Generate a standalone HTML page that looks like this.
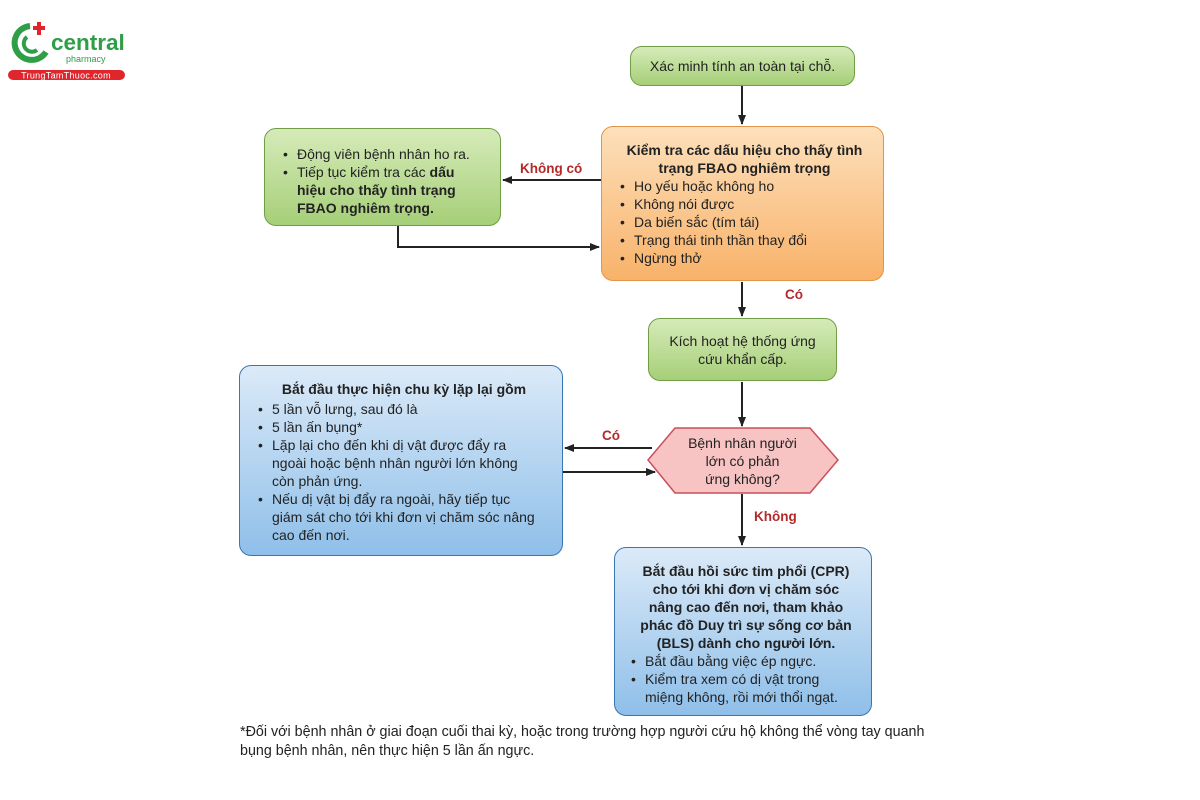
<!DOCTYPE html>
<html><head><meta charset="utf-8"><style>
*{margin:0;padding:0;box-sizing:border-box}
body{width:1200px;height:800px;background:#fff;position:relative;overflow:hidden;font-family:"Liberation Sans",Arial,sans-serif;color:#222;font-size:14px;line-height:18px}
.b{position:absolute;border-radius:12px;white-space:nowrap}
.g{background:linear-gradient(#d6ebb9,#a6cf78);border:1.5px solid #6f9e45}
.o{background:linear-gradient(#fde0bb,#f8b26a);border:1.5px solid #e0954a}
.bl{background:linear-gradient(#dbeaf8,#8fbfe9);border:1.5px solid #3a76b0}
ul{list-style:none}
li{position:relative;padding-left:16px}
li:before{content:"•";position:absolute;left:2px}
.t{font-weight:bold;text-align:center}
.lab{position:absolute;color:#b22a2a;font-weight:bold;font-size:13.5px}
svg{position:absolute;left:0;top:0}
</style></head><body>
<svg width="1200" height="800">
<defs><marker id="a" markerWidth="10" markerHeight="8" refX="9" refY="4" orient="auto" markerUnits="userSpaceOnUse"><path d="M0,0 L10,4 L0,8 z" fill="#222"/></marker></defs>
<g stroke="#222" stroke-width="2" fill="none">
<line x1="742" y1="86" x2="742" y2="124" marker-end="url(#a)"/>
<line x1="601" y1="180" x2="503" y2="180" marker-end="url(#a)"/>
<polyline points="398,226 398,247 599,247" marker-end="url(#a)"/>
<line x1="742" y1="282" x2="742" y2="316" marker-end="url(#a)"/>
<line x1="742" y1="382" x2="742" y2="426" marker-end="url(#a)"/>
<line x1="652" y1="448" x2="565" y2="448" marker-end="url(#a)"/>
<line x1="563" y1="472" x2="655" y2="472" marker-end="url(#a)"/>
<line x1="742" y1="494" x2="742" y2="545" marker-end="url(#a)"/>
</g>
<polygon points="648,460 675,428 810,428 838,460 810,493 675,493" fill="#f7c3c3" stroke="#c9505a" stroke-width="1.5"/>
<path d="M30,26 A17,17 0 1 0 46,52" stroke="#2e9e47" stroke-width="6" fill="none"/>
<path d="M27,37 A8,8 0 1 0 37,50" stroke="#2e9e47" stroke-width="4" fill="none"/>
<rect x="37" y="22" width="4" height="13" fill="#e0262c"/><rect x="33" y="26" width="12" height="4" fill="#e0262c"/>
<rect x="8" y="70" width="117" height="10" rx="5" fill="#e0262c"/>
<text x="66" y="78.5" text-anchor="middle" fill="#fff" font-size="9" font-family="Liberation Sans" letter-spacing="0.3">TrungTamThuoc.com</text>
<text x="51" y="50" fill="#2e9e47" font-size="22.5" font-family="Liberation Sans" font-weight="bold">central</text>
<text x="66" y="62" fill="#2e9e47" font-size="9" font-family="Liberation Sans">pharmacy</text>
</svg>
<div class="b g" style="left:630px;top:46px;width:225px;height:40px;text-align:center;padding-top:10px">Xác minh tính an toàn tại chỗ.</div>
<div class="b g" style="left:264px;top:128px;width:237px;height:98px;padding:16px 0 0 16px"><ul><li>Động viên bệnh nhân ho ra.</li><li>Tiếp tục kiểm tra các <b>dấu<br>hiệu cho thấy tình trạng<br>FBAO nghiêm trọng.</b></li></ul></div>
<div class="lab" style="left:520px;top:160px">Không có</div>
<div class="b o" style="left:601px;top:126px;width:283px;height:155px;padding:14px 12px 0 16px"><div class="t">Kiểm tra các dấu hiệu cho thấy tình<br>trạng FBAO nghiêm trọng</div><ul><li>Ho yếu hoặc không ho</li><li>Không nói được</li><li>Da biến sắc (tím tái)</li><li>Trạng thái tinh thần thay đổi</li><li>Ngừng thở</li></ul></div>
<div class="lab" style="left:785px;top:286px">Có</div>
<div class="b g" style="left:648px;top:318px;width:189px;height:63px;text-align:center;padding-top:13px">Kích hoạt hệ thống ứng<br>cứu khẩn cấp.</div>
<div class="b bl" style="left:239px;top:365px;width:324px;height:191px;padding:14px 10px 0 16px"><div class="t" style="margin-bottom:2px">Bắt đầu thực hiện chu kỳ lặp lại gồm</div><ul><li>5 lần vỗ lưng, sau đó là</li><li>5 lần ấn bụng*</li><li>Lặp lại cho đến khi dị vật được đẩy ra<br>ngoài hoặc bệnh nhân người lớn không<br>còn phản ứng.</li><li>Nếu dị vật bị đẩy ra ngoài, hãy tiếp tục<br>giám sát cho tới khi đơn vị chăm sóc nâng<br>cao đến nơi.</li></ul></div>
<div class="lab" style="left:602px;top:427px">Có</div>
<div style="position:absolute;left:675px;top:434px;width:135px;text-align:center">Bệnh nhân người<br>lớn có phản<br>ứng không?</div>
<div class="lab" style="left:754px;top:508px">Không</div>
<div class="b bl" style="left:614px;top:547px;width:258px;height:169px;padding:14px 8px 0 14px"><div class="t">Bắt đầu hồi sức tim phổi (CPR)<br>cho tới khi đơn vị chăm sóc<br>nâng cao đến nơi, tham khảo<br>phác đồ Duy trì sự sống cơ bản<br>(BLS) dành cho người lớn.</div><ul><li>Bắt đầu bằng việc ép ngực.</li><li>Kiểm tra xem có dị vật trong<br>miệng không, rồi mới thổi ngạt.</li></ul></div>
<div style="position:absolute;left:240px;top:723px;width:760px;font-size:14.3px;line-height:19px;white-space:nowrap">*Đối với bệnh nhân ở giai đoạn cuối thai kỳ, hoặc trong trường hợp người cứu hộ không thể vòng tay quanh<br>bụng bệnh nhân, nên thực hiện 5 lần ấn ngực.</div>
</body></html>
